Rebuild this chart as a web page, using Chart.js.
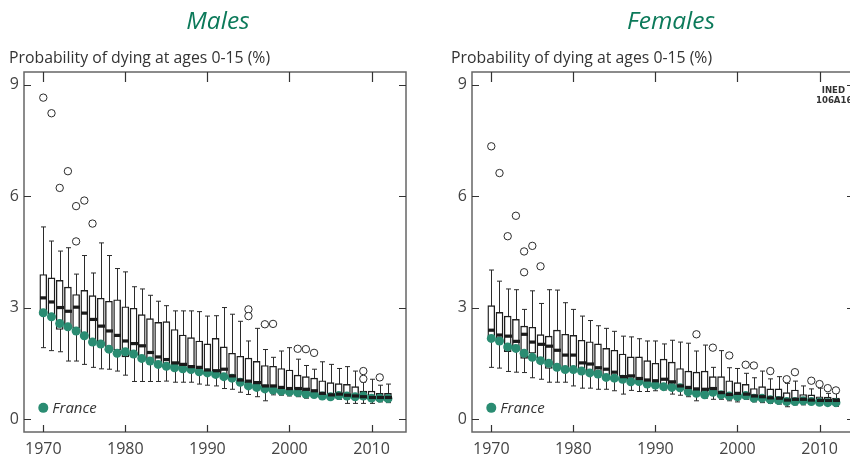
<!DOCTYPE html>
<html>
<head>
<meta charset="utf-8">
<script src="https://cdn.jsdelivr.net/npm/chart.js@4.4.1/dist/chart.umd.min.js"></script>
<style>
  html, body { margin: 0; padding: 0; width: 850px; height: 465px; overflow: hidden; background: #fff; }
  canvas { display: block; position: absolute; top: 0; }
</style>
</head>
<body>
<canvas id="males" width="425" height="465" style="left:0px"></canvas>
<canvas id="females" width="402" height="465" style="left:448px"></canvas>
<script>
// ---------- data ----------
const years = [1970,1971,1972,1973,1974,1975,1976,1977,1978,1979,
               1980,1981,1982,1983,1984,1985,1986,1987,1988,1989,
               1990,1991,1992,1993,1994,1995,1996,1997,1998,1999,
               2000,2001,2002,2003,2004,2005,2006,2007,2008,2009,
               2010,2011,2012];
const xTicks = [1970, 1980, 1990, 2000, 2010];
const xTickLabels = ['1970', '1980', '1990', '2000', '2010'];
const yTicks = [0, 3, 6, 9];
const yTickLabels = ['0', '3', '6', '9'];

// Males
const maleMax = [5.17,4.79,4.52,4.61,3.90,4.40,3.93,4.74,4.40,4.05,
                 3.96,3.56,3.50,3.33,3.17,3.05,2.91,2.91,2.91,2.89,
                 2.77,2.78,3.00,2.82,2.63,2.10,2.44,1.87,1.66,1.83,
                 1.92,1.61,1.44,1.34,1.54,1.47,1.36,1.41,1.29,0.99,
                 1.07,0.91,0.94];
const maleQ3 = [3.89,3.80,3.73,3.55,3.35,3.46,3.32,3.25,3.17,3.21,
                3.02,2.98,2.81,2.70,2.60,2.62,2.41,2.26,2.19,2.10,
                2.02,2.17,1.94,1.77,1.69,1.64,1.55,1.44,1.42,1.36,
                1.32,1.18,1.14,1.10,1.03,0.98,0.95,0.93,0.87,0.75,
                0.75,0.69,0.69];
const maleMedian = [3.26,3.15,3.00,2.90,3.01,2.85,2.68,2.50,2.37,2.25,
                    2.10,2.03,1.97,1.79,1.67,1.60,1.51,1.47,1.41,1.39,
                    1.32,1.30,1.34,1.16,1.05,1.02,0.98,0.89,0.89,0.85,
                    0.82,0.82,0.80,0.76,0.69,0.65,0.67,0.64,0.62,0.60,
                    0.58,0.58,0.58];
const maleQ1 = [2.80,2.78,2.41,2.45,2.44,2.22,2.10,2.06,1.85,1.85,
                1.67,1.70,1.62,1.55,1.47,1.44,1.40,1.36,1.32,1.29,
                1.24,1.22,1.12,1.10,1.00,0.92,0.88,0.83,0.80,0.77,
                0.75,0.73,0.69,0.68,0.64,0.61,0.62,0.60,0.58,0.55,
                0.52,0.50,0.49];
const maleMin = [1.92,1.84,1.81,1.56,1.56,1.47,1.39,1.35,1.34,1.29,
                 1.18,1.01,1.01,1.01,1.01,1.02,0.99,0.99,0.99,0.94,
                 0.91,0.89,0.82,0.80,0.72,0.66,0.60,0.49,0.65,0.64,
                 0.62,0.60,0.56,0.60,0.53,0.53,0.53,0.42,0.42,0.42,
                 0.42,0.46,0.44];
const maleFrance = [2.86,2.75,2.57,2.48,2.37,2.24,2.07,2.02,1.88,1.77,
                    1.81,1.75,1.63,1.56,1.47,1.42,1.38,1.35,1.33,1.27,
                    1.24,1.20,1.14,1.10,0.99,0.89,0.85,0.81,0.78,0.75,
                    0.73,0.71,0.67,0.66,0.62,0.60,0.63,0.62,0.60,0.62,
                    0.56,0.56,0.55];
const maleOutlierYears  = [1970,1971,1972,1973,1974,1974,1975,1976,1995,1995,1997,1998,2001,2002,2003,2009,2009,2011];
const maleOutlierValues = [8.65,8.23,6.22,6.67,5.73,4.78,5.88,5.26,2.95,2.77,2.55,2.56,1.89,1.88,1.78,1.29,1.08,1.12];

// Females
const femaleMax = [4.01,3.71,3.50,3.48,2.95,3.45,3.11,3.48,3.47,3.13,
                   2.95,2.77,2.65,2.51,2.44,2.36,2.23,2.21,2.16,2.10,
                   2.10,2.02,2.12,2.07,2.04,1.83,1.99,1.39,1.84,1.38,
                   1.36,1.23,1.11,1.29,1.08,1.14,0.96,1.02,0.89,0.81,
                   0.83,0.69,0.70];
const femaleQ3 = [3.05,2.87,2.77,2.68,2.50,2.47,2.27,2.23,2.39,2.28,
                  2.25,2.12,2.08,2.02,1.90,1.85,1.75,1.67,1.67,1.57,
                  1.50,1.61,1.53,1.36,1.29,1.26,1.29,1.14,1.14,1.03,
                  0.98,0.93,0.82,0.87,0.81,0.81,0.71,0.78,0.66,0.65,
                  0.60,0.59,0.56];
const femaleMedian = [2.39,2.26,2.23,2.09,2.28,2.07,2.01,1.96,1.85,1.72,
                      1.72,1.51,1.48,1.38,1.34,1.26,1.14,1.16,1.09,1.05,
                      1.03,1.07,1.00,0.89,0.85,0.81,0.80,0.82,0.71,0.66,
                      0.69,0.67,0.62,0.60,0.57,0.56,0.51,0.53,0.53,0.51,
                      0.50,0.50,0.50];
const femaleQ1 = [2.18,2.14,1.81,1.85,1.63,1.77,1.62,1.36,1.38,1.37,
                  1.36,1.30,1.25,1.20,1.14,1.11,1.07,1.02,1.00,0.96,
                  0.93,0.90,0.87,0.84,0.76,0.72,0.68,0.72,0.66,0.63,
                  0.62,0.62,0.57,0.56,0.53,0.52,0.48,0.49,0.49,0.47,
                  0.45,0.44,0.44];
const femaleMin = [1.39,1.37,1.28,1.26,1.25,1.11,1.07,0.99,0.99,0.99,
                   0.89,0.83,0.83,0.80,0.80,0.76,0.67,0.77,0.74,0.74,
                   0.76,0.78,0.67,0.64,0.60,0.49,0.56,0.53,0.53,0.49,
                   0.46,0.53,0.46,0.44,0.42,0.40,0.33,0.38,0.38,0.40,
                   0.38,0.38,0.34];
const femaleFrance = [2.17,2.10,1.94,1.90,1.77,1.66,1.57,1.50,1.39,1.33,
                      1.33,1.29,1.24,1.21,1.12,1.10,1.07,1.00,1.01,0.94,
                      0.91,0.87,0.85,0.84,0.73,0.69,0.65,0.72,0.65,0.62,
                      0.60,0.63,0.56,0.56,0.52,0.50,0.47,0.47,0.49,0.47,
                      0.45,0.44,0.44];
const femaleOutlierYears  = [1970,1971,1972,1973,1974,1974,1975,1976,1995,1997,1999,2001,2002,2004,2006,2007,2009,2010,2011,2012];
const femaleOutlierValues = [7.34,6.62,4.92,5.47,4.51,3.95,4.66,4.11,2.28,1.92,1.71,1.46,1.44,1.29,1.07,1.26,1.03,0.94,0.83,0.77];

// ---------- styling ----------
const GREEN_TITLE = '#0c7a5a';
const GREEN_DOT = '#2a8c72';
const INK = '#1e1e1e';
const TEXT = '#444444';
const FONT = '"Open Sans", "DejaVu Sans", sans-serif';
Chart.defaults.font.family = FONT;
Chart.defaults.color = TEXT;

const boxPlugin = {
  id: 'boxExtras',
  afterLayout(chart) {
    // the right panel's plot frame runs past the page edge, as in the original figure
    const o = chart.options.plugins.boxExtras;
    if (o.areaRight === undefined) return;
    const xs = chart.scales.x;
    xs.right = o.areaRight;
    xs.width = o.areaRight - xs.left;
    xs.configure();
    chart.chartArea.right = o.areaRight;
    chart.chartArea.width = o.areaRight - chart.chartArea.left;
  },
  beforeDatasetsDraw(chart) {
    const o = chart.options.plugins.boxExtras;
    const {ctx, chartArea: a} = chart;
    const xs = chart.scales.x, ys = chart.scales.y;
    ctx.save();
    ctx.beginPath(); ctx.rect(a.left, a.top, a.right - a.left, a.bottom - a.top); ctx.clip();
    ctx.strokeStyle = '#2a2a2a';
    ctx.lineWidth = 1;
    o.years.forEach((yr, i) => {
      const x = Math.round(xs.getPixelForValue(yr)) + 0.5;
      const yTop = ys.getPixelForValue(o.max[i]);
      const yBot = ys.getPixelForValue(o.min[i]);
      ctx.beginPath();
      ctx.moveTo(x, yTop); ctx.lineTo(x, yBot);
      ctx.moveTo(x - 2.5, yTop); ctx.lineTo(x + 2.5, yTop);
      ctx.moveTo(x - 2.5, yBot); ctx.lineTo(x + 2.5, yBot);
      ctx.stroke();
    });
    ctx.restore();
  },
  afterDatasetsDraw(chart) {
    const o = chart.options.plugins.boxExtras;
    const {ctx} = chart;
    const xs = chart.scales.x, ys = chart.scales.y;
    ctx.save();
    ctx.fillStyle = '#1a1a1a';
    o.years.forEach((yr, i) => {
      const x = Math.round(xs.getPixelForValue(yr)) + 0.5;
      const y = ys.getPixelForValue(o.median[i]);
      ctx.fillRect(x - 3.5, y - 1.6, 7, 3.2);
    });
    ctx.restore();
  },
  afterDraw(chart) {
    const o = chart.options.plugins.boxExtras;
    const {ctx, chartArea: a} = chart;
    const xs = chart.scales.x, ys = chart.scales.y;
    ctx.save();
    // frame
    ctx.strokeStyle = '#666666';
    ctx.lineWidth = 1.5;
    ctx.strokeRect(a.left, a.top, a.right - a.left, a.bottom - a.top);
    // inward ticks
    ctx.strokeStyle = '#333';
    ctx.lineWidth = 1.2;
    ctx.beginPath();
    yTicks.forEach(v => {
      const y = Math.round(ys.getPixelForValue(v)) + 0.5;
      ctx.moveTo(a.left, y); ctx.lineTo(a.left + 7, y);
      ctx.moveTo(a.right, y); ctx.lineTo(a.right - 7, y);
    });
    xTicks.forEach(v => {
      const x = Math.round(xs.getPixelForValue(v)) + 0.5;
      ctx.moveTo(x, a.bottom); ctx.lineTo(x, a.bottom - 7);
      ctx.moveTo(x, a.top); ctx.lineTo(x, a.top + 10);
    });
    ctx.stroke();
    // panel title
    ctx.fillStyle = GREEN_TITLE;
    ctx.font = 'italic 24.5px ' + FONT;
    ctx.textAlign = 'center';
    ctx.textBaseline = 'alphabetic';
    ctx.fillText(o.title, o.titleX, 29);
    // axis title
    ctx.fillStyle = '#333';
    ctx.font = '15.8px ' + FONT;
    ctx.textAlign = 'left';
    ctx.fillText(o.axisTitle, o.axisTitleX, 63);
    // legend
    const lx = xs.getPixelForValue(years[0]);
    const ly = ys.getPixelForValue(0.3);
    ctx.fillStyle = GREEN_DOT;
    ctx.beginPath(); ctx.arc(lx, ly, 5, 0, Math.PI * 2); ctx.fill();
    ctx.fillStyle = '#333';
    ctx.font = 'italic 15px ' + FONT;
    ctx.textBaseline = 'middle';
    ctx.fillText('France', lx + 9, ly + 1);
    // source note
    if (o.note) {
      ctx.font = 'bold 9.5px "Liberation Sans Narrow", "DejaVu Sans Condensed", sans-serif';
      ctx.fillStyle = '#333';
      ctx.textBaseline = 'alphabetic';
      ctx.textAlign = 'right';
      ctx.fillText(o.note[0], 397, 93);
      ctx.textAlign = 'left';
      ctx.fillText(o.note[1], 368, 103);
    }
    ctx.restore();
  }
};

function makeChart(id, d) {
  const ctx = document.getElementById(id);
  return new Chart(ctx, {
    type: 'bar',
    data: {
      datasets: [
        {
          type: 'scatter',
          label: 'Outliers',
          data: d.outYears.map((x, i) => ({x: x, y: d.outValues[i]})),
          pointStyle: 'circle',
          pointRadius: 3.7,
          pointBackgroundColor: '#ffffff',
          pointBorderColor: '#2a2a2a',
          pointBorderWidth: 1,
          order: 1
        },
        {
          type: 'scatter',
          label: 'France',
          data: years.map((x, i) => ({x: x, y: d.france[i]})),
          pointStyle: 'circle',
          pointRadius: 4.5,
          pointBackgroundColor: GREEN_DOT,
          pointBorderWidth: 0,
          order: 2
        },
        {
          type: 'bar',
          label: 'Interquartile range',
          data: years.map((x, i) => ({x: x, y: [d.q1[i], d.q3[i]]})),
          backgroundColor: '#ffffff',
          borderColor: INK,
          borderWidth: 1.4,
          borderSkipped: false,
          barThickness: 7,
          grouped: false,
          order: 3
        }
      ]
    },
    options: {
      responsive: false,
      animation: false,
      events: [],
      layout: { padding: { top: 72, left: 0, right: d.padRight, bottom: 0 } },
      scales: {
        x: {
          type: 'linear',
          offset: false,
          min: 1967.65, max: 2014.2,
          afterFit: s => { s.height = 33; },
          afterBuildTicks: s => { s.ticks = xTicks.map(v => ({value: v})); },
          ticks: {
            callback: v => xTickLabels[xTicks.indexOf(v)],
            font: { size: 16 }, color: TEXT, padding: 8, maxRotation: 0, autoSkip: false
          },
          grid: { display: false, drawTicks: false },
          border: { display: false }
        },
        y: {
          min: -0.35, max: 9.34,
          afterFit: s => { s.width = 24; },
          afterBuildTicks: s => { s.ticks = yTicks.map(v => ({value: v})); },
          ticks: {
            callback: v => yTickLabels[yTicks.indexOf(v)],
            font: { size: 16 }, color: TEXT, padding: 5
          },
          grid: { display: false, drawTicks: false },
          border: { display: false }
        }
      },
      plugins: {
        legend: { display: false },
        tooltip: { enabled: false },
        boxExtras: {
          years: years, min: d.min, max: d.max, median: d.median,
          title: d.title, titleX: d.titleX,
          axisTitle: 'Probability of dying at ages 0-15 (%)', axisTitleX: d.axisTitleX,
          note: d.note, areaRight: d.areaRight
        }
      }
    },
    plugins: [boxPlugin]
  });
}

makeChart('males', {
  title: 'Males', titleX: 218, axisTitleX: 9, padRight: 19,
  min: maleMin, q1: maleQ1, median: maleMedian, q3: maleQ3, max: maleMax,
  france: maleFrance, outYears: maleOutlierYears, outValues: maleOutlierValues
});
makeChart('females', {
  title: 'Females', titleX: 223, axisTitleX: 3, padRight: 0, areaRight: 406,
  min: femaleMin, q1: femaleQ1, median: femaleMedian, q3: femaleQ3, max: femaleMax,
  france: femaleFrance, outYears: femaleOutlierYears, outValues: femaleOutlierValues,
  note: ['INED', '106A16']
});
</script>
</body>
</html>
